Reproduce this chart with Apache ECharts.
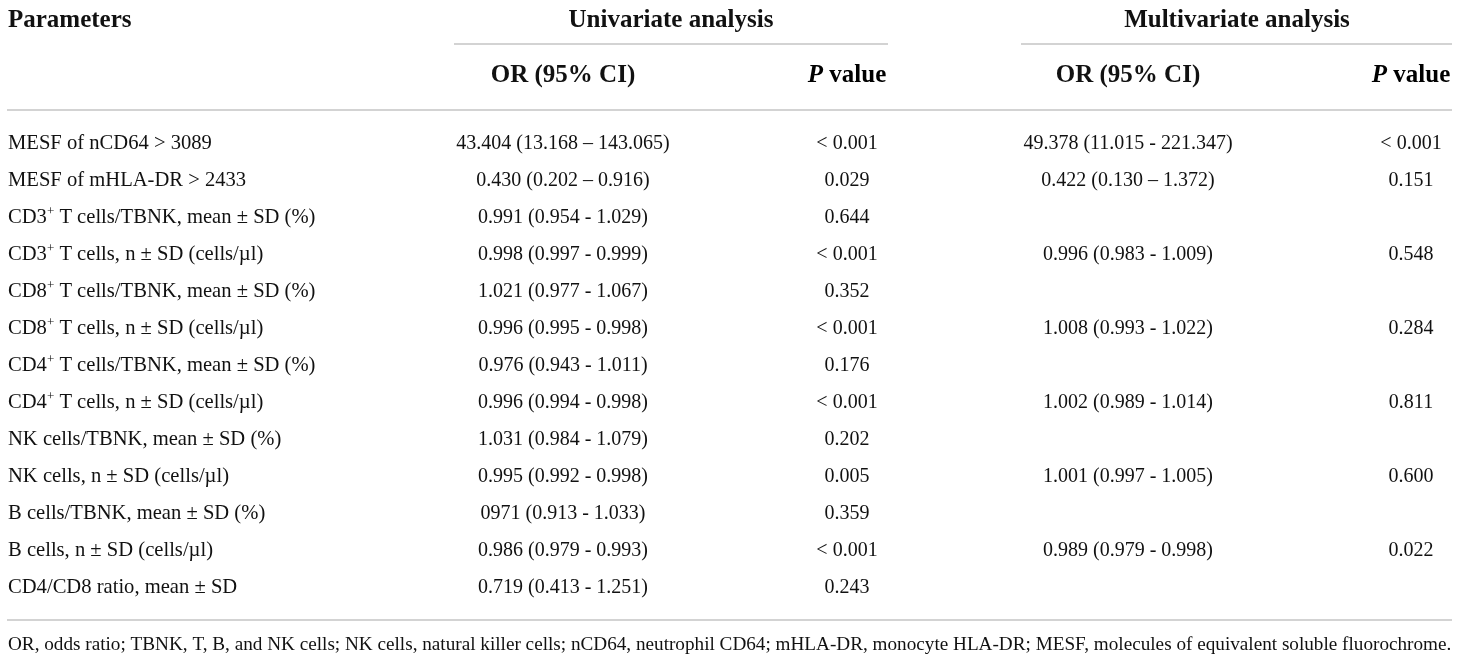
<!DOCTYPE html>
<html>
<head>
<meta charset="utf-8">
<title>Univariate and multivariate analysis</title>
<script src="https://cdn.jsdelivr.net/npm/echarts@6/dist/echarts.min.js"></script>
<style>
  html, body { margin: 0; padding: 0; background: #fff; }
  #main { width: 1460px; height: 660px; }
</style>
</head>
<body>
<div id="main"></div>
<script>
'use strict';

// table content, one array per column
var rowLabels = [
    'MESF of nCD64 > 3089',
    'MESF of mHLA-DR > 2433',
    'CD3+ T cells/TBNK, mean ± SD (%)',
    'CD3+ T cells, n ± SD (cells/µl)',
    'CD8+ T cells/TBNK, mean ± SD (%)',
    'CD8+ T cells, n ± SD (cells/µl)',
    'CD4+ T cells/TBNK, mean ± SD (%)',
    'CD4+ T cells, n ± SD (cells/µl)',
    'NK cells/TBNK, mean ± SD (%)',
    'NK cells, n ± SD (cells/µl)',
    'B cells/TBNK, mean ± SD (%)',
    'B cells, n ± SD (cells/µl)',
    'CD4/CD8 ratio, mean ± SD'
];
var uniOR = [
    '43.404 (13.168 – 143.065)',
    '0.430 (0.202 – 0.916)',
    '0.991 (0.954 - 1.029)',
    '0.998 (0.997 - 0.999)',
    '1.021 (0.977 - 1.067)',
    '0.996 (0.995 - 0.998)',
    '0.976 (0.943 - 1.011)',
    '0.996 (0.994 - 0.998)',
    '1.031 (0.984 - 1.079)',
    '0.995 (0.992 - 0.998)',
    '0971 (0.913 - 1.033)',
    '0.986 (0.979 - 0.993)',
    '0.719 (0.413 - 1.251)'
];
var uniP = ['< 0.001', '0.029', '0.644', '< 0.001', '0.352', '< 0.001', '0.176',
    '< 0.001', '0.202', '0.005', '0.359', '< 0.001', '0.243'];
var multiOR = [
    '49.378 (11.015 - 221.347)',
    '0.422 (0.130 – 1.372)',
    '',
    '0.996 (0.983 - 1.009)',
    '',
    '1.008 (0.993 - 1.022)',
    '',
    '1.002 (0.989 - 1.014)',
    '',
    '1.001 (0.997 - 1.005)',
    '',
    '0.989 (0.979 - 0.998)',
    ''
];
var multiP = ['< 0.001', '0.151', '', '0.548', '', '0.284', '', '0.811', '', '0.600', '', '0.022', ''];
var footnote = 'OR, odds ratio; TBNK, T, B, and NK cells; NK cells, natural killer cells; nCD64, neutrophil CD64; ' +
    'mHLA-DR, monocyte HLA-DR; MESF, molecules of equivalent soluble fluorochrome.';

var FONT = '"Liberation Serif", "DejaVu Serif", serif';
var INK = '#111';
var RULE = '#c4c4c4';

// column anchors on the 0..1460 x scale
var columns = [
    {x: 8,    align: 'left',   size: 20.6, values: rowLabels},
    {x: 563,  align: 'center', size: 20,   values: uniOR},
    {x: 847,  align: 'center', size: 20,   values: uniP},
    {x: 1128, align: 'center', size: 20,   values: multiOR},
    {x: 1411, align: 'center', size: 20,   values: multiP}
];

function cellRich(size) {
    return {
        n: {fontSize: size, fontFamily: FONT, color: INK, lineHeight: 26},
        s: {fontSize: 13, fontFamily: FONT, color: INK, lineHeight: 13, verticalAlign: 'top'}
    };
}

function cellText(str) {
    // CD3+ -> superscript plus
    var m = /^(CD\d)\+(.*)$/.exec(str);
    if (m) {
        return '{n|' + m[1] + '}{s|+}{n|' + m[2] + '}';
    }
    return '{n|' + str + '}';
}

function makeSeries(col) {
    var rich = cellRich(col.size);
    return {
        type: 'custom',
        silent: true,
        animation: false,
        data: col.values.map(function (v, i) { return [i]; }),
        encode: {y: 0},
        renderItem: function (params, api) {
            var txt = col.values[params.dataIndex];
            if (!txt) { return null; }
            var pt = api.coord([col.x, api.value(0)]);
            return {
                type: 'text',
                x: pt[0],
                y: pt[1],
                style: {
                    text: cellText(txt),
                    rich: rich,
                    align: col.align,
                    verticalAlign: 'middle',
                    fill: INK
                }
            };
        }
    };
}

var headStyle = {fontSize: 25, fontWeight: 'bold', fontFamily: FONT, fill: INK};

function headText(x, y, text, align) {
    return {
        type: 'text', x: x, y: y, silent: true,
        style: Object.assign({text: text, align: align, verticalAlign: 'middle'}, headStyle)
    };
}

function pHead(x, y) {
    return {
        type: 'text', x: x, y: y, silent: true,
        style: {
            text: '{i|P}{b| value}',
            align: 'center',
            verticalAlign: 'middle',
            rich: {
                i: {fontSize: 25, fontWeight: 'bold', fontStyle: 'italic', fontFamily: FONT, color: INK},
                b: {fontSize: 25, fontWeight: 'bold', fontFamily: FONT, color: INK}
            }
        }
    };
}

function rule(x1, x2, y) {
    return {
        type: 'line', silent: true,
        shape: {x1: x1, y1: y, x2: x2, y2: y},
        style: {stroke: RULE, lineWidth: 1.5}
    };
}

var option = {
    backgroundColor: '#fff',
    animation: false,
    grid: {left: 0, right: 0, top: 125.5, bottom: 53.5},
    xAxis: {type: 'value', min: 0, max: 1460, show: false},
    yAxis: {type: 'category', data: rowLabels, inverse: true, show: false},
    graphic: [
        headText(8, 21, 'Parameters', 'left'),
        headText(671, 21, 'Univariate analysis', 'center'),
        headText(1237, 21, 'Multivariate analysis', 'center'),
        rule(454, 888, 44),
        rule(1021, 1452, 44),
        headText(563, 76, 'OR (95% CI)', 'center'),
        pHead(847, 76),
        headText(1128, 76, 'OR (95% CI)', 'center'),
        pHead(1411, 76),
        rule(7, 1452, 110),
        rule(7, 1452, 620),
        {
            type: 'text', x: 8, y: 645, silent: true,
            style: {text: footnote, fontSize: 19.2, fontFamily: FONT, fill: INK, align: 'left', verticalAlign: 'middle'}
        }
    ],
    series: columns.map(makeSeries)
};

var chart = echarts.init(document.getElementById('main'));
chart.setOption(option);
</script>
</body>
</html>
